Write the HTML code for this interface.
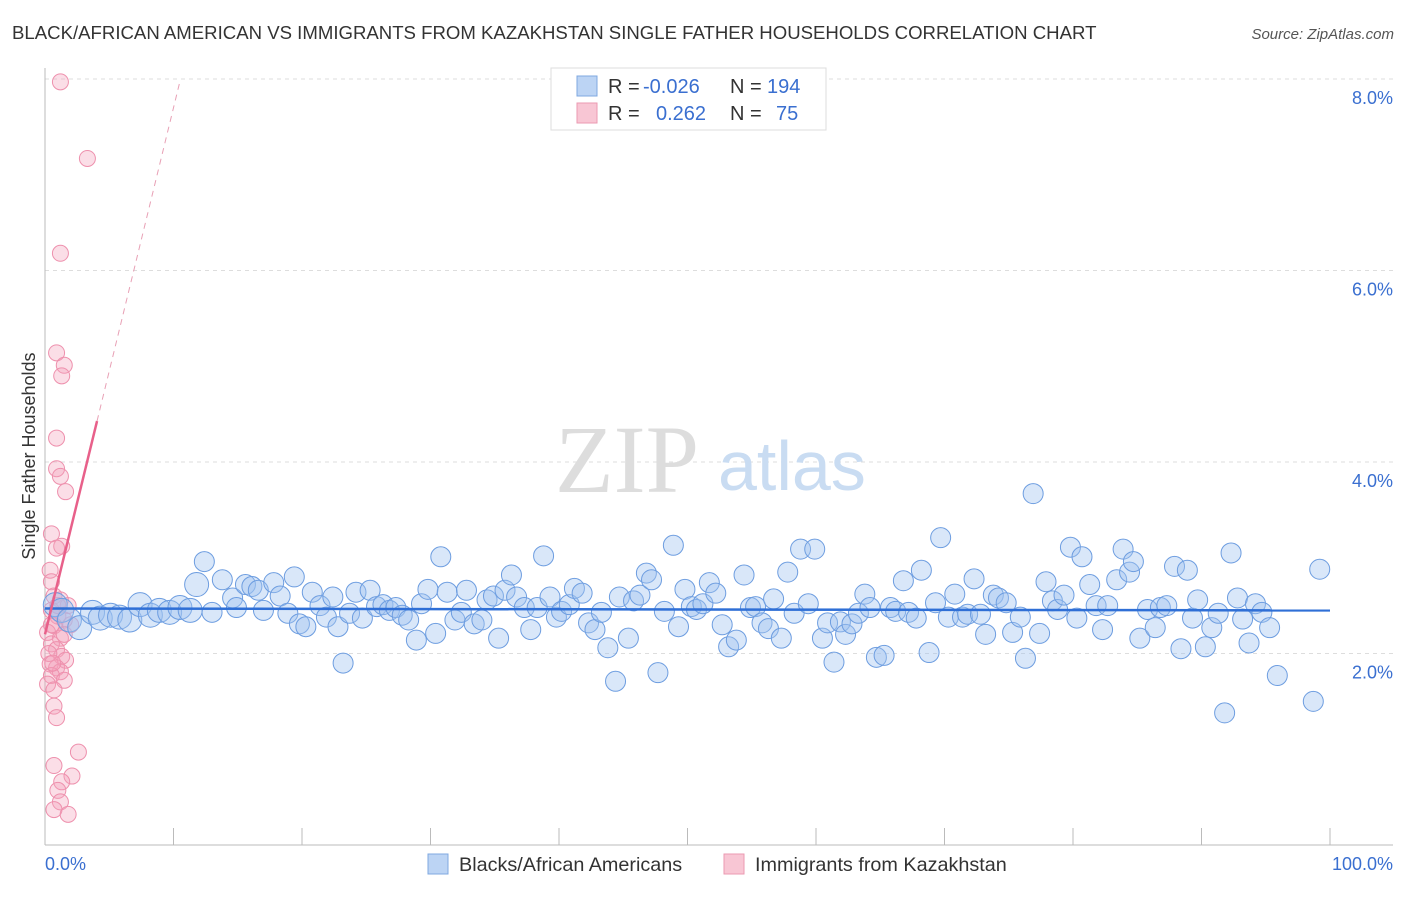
<!DOCTYPE html>
<html><head><meta charset="utf-8"><style>
body{margin:0;background:#fff;font-family:"Liberation Sans",sans-serif}
svg text{font-family:"Liberation Sans",sans-serif}
</style></head><body>
<svg id="chart" width="1406" height="892" xmlns="http://www.w3.org/2000/svg">
<text x="12" y="39" font-size="18.6" fill="#333">BLACK/AFRICAN AMERICAN VS IMMIGRANTS FROM KAZAKHSTAN SINGLE FATHER HOUSEHOLDS CORRELATION CHART</text>
<text x="1394" y="39" font-size="15" fill="#555" font-style="italic" text-anchor="end">Source: ZipAtlas.com</text>
<text x="35" y="456" font-size="18" fill="#333" text-anchor="middle" transform="rotate(-90 35 456)">Single Father Households</text>
<g id="grid"></g>
<g id="ticks"></g>
<text x="555" y="492" font-size="96" fill="#ddd" style="font-family:'Liberation Serif',serif">ZIP</text>
<text x="718" y="490" font-size="70" fill="#c9dcf2">atlas</text>
<g id="pink"></g>
<g id="blue"></g>
<g id="lines"></g>
<g>
<rect x="551" y="68" width="275" height="62" fill="#fff" stroke="#ddd"/>
<rect x="577" y="76" width="20" height="20" fill="#bcd4f4" stroke="#7fa8e0"/>
<rect x="577" y="103" width="20" height="20" fill="#f8c6d4" stroke="#eb9ab2"/>
<text x="608" y="93" font-size="20" fill="#333">R = </text><text x="643" y="93" font-size="20" fill="#3a6fd0">-0.026</text>
<text x="730" y="93" font-size="20" fill="#333">N = </text><text x="767" y="93" font-size="20" fill="#3a6fd0">194</text>
<text x="608" y="120" font-size="20" fill="#333">R = </text><text x="656" y="120" font-size="20" fill="#3a6fd0">0.262</text>
<text x="730" y="120" font-size="20" fill="#333">N = </text><text x="776" y="120" font-size="20" fill="#3a6fd0">75</text>
</g>
<g>
<rect x="428" y="854" width="20" height="20" fill="#bcd4f4" stroke="#7fa8e0"/>
<text x="459" y="871" font-size="19.8" fill="#333">Blacks/African Americans</text>
<rect x="724" y="854" width="20" height="20" fill="#f8c6d4" stroke="#eb9ab2"/>
<text x="755" y="871" font-size="19.8" fill="#333">Immigrants from Kazakhstan</text>
</g>
<text x="45" y="870" font-size="18" fill="#3a6fd0">0.0%</text>
<text x="1393" y="870" font-size="18" fill="#3a6fd0" text-anchor="end">100.0%</text>
</svg>
<script>
const yTicks=[2,4,6,8];
const yTickLabels=["2.0%","4.0%","6.0%","8.0%"];
const xTicks=[0,10,20,30,40,50,60,70,80,90,100];
const blueX=[0.8,1.3,1.9,2.7,3.7,4.3,5.1,5.8,6.6,7.4,8.2,8.9,9.7,10.5,11.3,11.8,12.4,13.0,13.8,14.6,14.9,15.6,16.1,16.6,17.0,17.8,18.3,18.9,19.4,19.8,20.3,20.8,21.4,21.9,22.4,22.8,23.2,23.7,24.2,24.7,25.3,25.8,26.3,26.8,27.3,27.8,28.3,28.9,29.3,29.8,30.4,30.8,31.3,31.9,32.4,32.8,33.4,34.0,34.4,34.9,35.3,35.8,36.3,36.7,37.3,37.8,38.3,38.8,39.3,39.8,40.2,40.8,41.2,41.8,42.3,42.8,43.3,43.8,44.4,44.7,45.4,45.8,46.3,46.8,47.2,47.7,48.2,48.9,49.3,49.8,50.3,50.7,51.2,51.7,52.2,52.7,53.2,53.8,54.4,54.9,55.3,55.8,56.3,56.7,57.3,57.8,58.3,58.8,59.4,59.9,60.5,60.9,61.4,61.9,62.3,62.8,63.3,63.8,64.2,64.7,65.3,65.8,66.2,66.8,67.2,67.8,68.2,68.8,69.3,69.7,70.3,70.8,71.4,71.8,72.3,72.8,73.2,73.8,74.2,74.8,75.3,75.9,76.3,76.9,77.4,77.9,78.4,78.8,79.3,79.8,80.3,80.7,81.3,81.8,82.3,82.7,83.4,83.9,84.4,84.7,85.2,85.8,86.4,86.8,87.3,87.9,88.4,88.9,89.3,89.7,90.3,90.8,91.3,91.8,92.3,92.8,93.2,93.7,94.2,94.7,95.3,95.9,98.7,99.2];
const blueY=[2.51,2.45,2.35,2.27,2.43,2.37,2.40,2.38,2.35,2.51,2.40,2.45,2.43,2.48,2.45,2.72,2.96,2.43,2.77,2.58,2.48,2.72,2.70,2.66,2.45,2.74,2.60,2.42,2.80,2.31,2.28,2.64,2.50,2.38,2.59,2.28,1.90,2.42,2.64,2.37,2.66,2.49,2.51,2.45,2.48,2.40,2.35,2.14,2.52,2.67,2.21,3.01,2.64,2.35,2.43,2.66,2.31,2.35,2.56,2.60,2.16,2.66,2.82,2.59,2.48,2.25,2.48,3.02,2.59,2.38,2.44,2.51,2.68,2.63,2.32,2.25,2.43,2.06,1.71,2.59,2.16,2.55,2.61,2.84,2.77,1.80,2.44,3.13,2.28,2.67,2.49,2.46,2.52,2.74,2.63,2.30,2.07,2.14,2.82,2.48,2.49,2.32,2.26,2.57,2.16,2.85,2.42,3.09,2.52,3.09,2.16,2.32,1.91,2.33,2.20,2.31,2.42,2.62,2.48,1.96,1.98,2.48,2.44,2.76,2.43,2.37,2.87,2.01,2.53,3.21,2.38,2.62,2.38,2.41,2.78,2.41,2.20,2.61,2.58,2.53,2.22,2.38,1.95,3.67,2.21,2.75,2.55,2.46,2.61,3.11,2.37,3.01,2.72,2.50,2.25,2.50,2.77,3.09,2.85,2.96,2.16,2.46,2.27,2.48,2.50,2.91,2.05,2.87,2.37,2.56,2.07,2.27,2.42,1.38,3.05,2.58,2.36,2.11,2.52,2.43,2.27,1.77,1.50,2.88];
const pinkX=[1.2,3.3,1.2,0.9,1.5,1.3,0.9,0.9,1.2,1.6,0.5,1.3,0.9,0.4,0.5,0.7,1.2,1.8,0.5,1.0,1.5,0.7,0.2,1.2,0.5,0.9,1.3,1.6,0.4,0.9,1.2,0.5,1.5,0.2,0.7,0.7,0.9,2.6,0.7,2.1,1.3,1.0,1.2,0.7,1.8,0.5,1.5,2.0,0.3,1.0,0.6];
const pinkY=[7.97,7.17,6.18,5.14,5.01,4.90,4.25,3.93,3.85,3.69,3.25,3.12,3.10,2.87,2.75,2.60,2.56,2.50,2.45,2.39,2.35,2.29,2.22,2.16,2.10,2.04,1.97,1.93,1.89,1.85,1.81,1.77,1.72,1.68,1.62,1.45,1.33,0.97,0.83,0.72,0.66,0.57,0.45,0.37,0.32,2.30,2.20,2.30,2.00,2.50,1.90];
const blueTrend=[2.47,2.45];
const pinkTrend=[2.2,0.55];
const NS="http://www.w3.org/2000/svg";
const X=v=>45+v*12.85, Y=v=>845-v*95.75;
function mk(tag,attrs,parent){const e=document.createElementNS(NS,tag);for(const k in attrs)e.setAttribute(k,attrs[k]);document.getElementById(parent).appendChild(e);return e;}
yTicks.forEach((t,i)=>{
 const l=mk('line',{x1:45,x2:1393,y1:Y(t),y2:Y(t),stroke:'#ddd','stroke-dasharray':'4,4'},'grid');
 
 
 const tx=mk('text',{x:1393,y:Y(t)+25,'font-size':18,fill:'#3a6fd0','text-anchor':'end'},'grid');
 tx.textContent=yTickLabels[i];
 
 
});
mk('line',{x1:45,x2:45,y1:68,y2:845,stroke:'#bbb'},'ticks');
mk('line',{x1:45,x2:1393,y1:845,y2:845,stroke:'#bbb'},'ticks');
xTicks.forEach(t=>{const l=mk('line',{x1:X(t),x2:X(t),y1:828,y2:845,stroke:'#bbb'},'ticks');
 
 });
pinkX.forEach((x,i)=>{const c=mk('circle',{cx:X(x),cy:Y(pinkY[i]),r:8,fill:'rgba(244,160,185,0.35)',stroke:'#ee90ad','stroke-width':1},'pink');
 
 });
blueX.forEach((x,i)=>{const c=mk('circle',{cx:X(x),cy:Y(blueY[i]),r:x<12?12:10,fill:'rgba(160,195,240,0.4)',stroke:'#6d9de0','stroke-width':1},'blue');
 
 });
const bl=mk('line',{x1:X(0),x2:X(100),y1:Y(blueTrend[0]),y2:Y(blueTrend[1]),stroke:'#2f6fd6','stroke-width':2.5},'lines');


const pl=mk('line',{x1:X(0),x2:X(4.05),y1:Y(pinkTrend[0]),y2:Y(pinkTrend[0]+pinkTrend[1]*4.05),stroke:'#e8608a','stroke-width':2.5},'lines');


const pd=mk('line',{x1:X(4.05),x2:X(10.5),y1:Y(pinkTrend[0]+pinkTrend[1]*4.05),y2:Y(pinkTrend[0]+pinkTrend[1]*10.5),stroke:'#e8a0b5','stroke-width':1,'stroke-dasharray':'6,5'},'lines');


</script>
</body></html>
